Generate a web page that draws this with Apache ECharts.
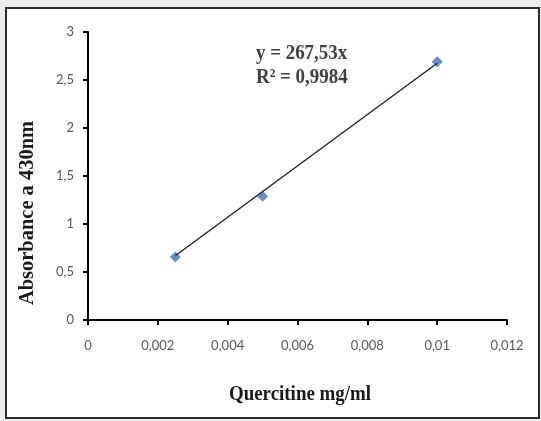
<!DOCTYPE html>
<html>
<head>
<meta charset="utf-8">
<script src="https://cdn.jsdelivr.net/npm/echarts@6/dist/echarts.min.js"></script>
<style>
html,body{margin:0;padding:0;background:#ececec;}
#chart{width:541px;height:421px;}
</style>
</head>
<body>
<div id="chart"></div>
<script>
// Data
var concentrations = [0.0025, 0.005, 0.01];      // Quercitine mg/ml
var absorbances = [0.655, 1.29, 2.69];           // Absorbance at 430 nm
var trendX = [0.0025, 0.01];                     // trendline endpoints (x)
var trendY = [0.669, 2.675];                     // trendline endpoints (y)
var equationLines = ['y = 267,53x', 'R² = 0,9984'];
var xTitle = 'Quercitine mg/ml';
var yTitle = 'Absorbance a 430nm';

function fmt(v) {
  return String(Number(v.toPrecision(6))).replace('.', ',');
}

var chart = echarts.init(document.getElementById('chart'), null, {renderer: 'canvas'});

var scatterData = concentrations.map(function (c, i) { return [c, absorbances[i]]; });
var trendData = trendX.map(function (x, i) { return [x, trendY[i]]; });

var serifTitle = {fontFamily: 'Liberation Serif', fontWeight: 'bold', fill: '#1a1a1a'};

chart.setOption({
  backgroundColor: 'transparent',
  animation: false,
  grid: {left: 88, right: 34, top: 32, bottom: 101, containLabel: false},
  xAxis: {
    type: 'value', min: 0, max: 0.012, interval: 0.002,
    axisLine: {show: true, onZero: false, lineStyle: {color: '#000', width: 2}},
    axisTick: {show: true, length: 5, lineStyle: {color: '#000', width: 2}},
    splitLine: {show: false},
    axisLabel: {margin: 19, color: '#595959', fontFamily: 'Lato', fontSize: 13, formatter: fmt}
  },
  yAxis: {
    type: 'value', min: 0, max: 3, interval: 0.5,
    axisLine: {show: true, lineStyle: {color: '#000', width: 2}},
    axisTick: {show: true, length: 5, lineStyle: {color: '#000', width: 2}},
    splitLine: {show: false},
    axisLabel: {margin: 14, color: '#595959', fontFamily: 'Lato', fontSize: 13, formatter: fmt}
  },
  graphic: [
    {type: 'rect', z: -10, silent: true, shape: {x: 6, y: 8, width: 533, height: 410},
     style: {fill: '#ffffff', stroke: '#2b2b2b', lineWidth: 2}},
    {type: 'text', x: 256, y: 41, scaleX: 0.86, z: 10,
     style: {text: equationLines.join('\n'), fontFamily: 'Liberation Serif', fontWeight: 'bold',
             fontSize: 22, lineHeight: 24, fill: '#404040', align: 'left', verticalAlign: 'top'}},
    {type: 'text', x: 300, y: 394, scaleX: 0.86, z: 10,
     style: Object.assign({text: xTitle, fontSize: 22, align: 'center', verticalAlign: 'middle'}, serifTitle)},
    {type: 'text', x: 27, y: 213, rotation: Math.PI / 2, scaleX: 0.93, z: 10,
     style: Object.assign({text: yTitle, fontSize: 22, align: 'center', verticalAlign: 'middle'}, serifTitle)}
  ],
  series: [
    {
      type: 'line', data: trendData, symbol: 'none', z: 3,
      lineStyle: {color: '#222', width: 1.4}
    },
    {
      type: 'scatter', data: scatterData, symbol: 'diamond', symbolSize: 11, z: 2,
      itemStyle: {color: '#4472C4'}
    }
  ]
});
</script>
</body>
</html>
